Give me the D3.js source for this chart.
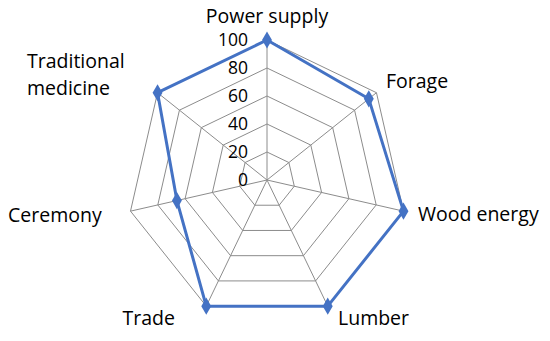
<!DOCTYPE html>
<html>
<head>
<meta charset="utf-8">
<script src="https://cdn.jsdelivr.net/npm/d3@7"></script>
<style>
  body { margin: 0; background: #fff; }
  text { font-family: "Open Sans", sans-serif; fill: #000; }
</style>
</head>
<body>
<div class="stage"></div>
<script>
var categories = ["Power supply", "Forage", "Wood energy", "Lumber", "Trade", "Ceremony", "Traditional medicine"];
var values = [100, 93, 100, 100, 100, 66, 100];
var ticks = [0, 20, 40, 60, 80, 100];

var width = 550, height = 341;
var cx = 267, cy = 180, radius = 140;

var svg = d3.select(".stage").append("svg")
    .attr("width", width)
    .attr("height", height);

var r = d3.scaleLinear().domain([0, 100]).range([0, radius]);
var angle = d3.scaleLinear().domain([0, categories.length]).range([0, 2 * Math.PI]);

function pt(i, v) {
  var a = angle(i);
  return [cx + r(v) * Math.sin(a), cy - r(v) * Math.cos(a)];
}

var g = svg.append("g");

// rings
ticks.slice(1).forEach(function(t) {
  g.append("polygon")
    .attr("points", categories.map(function(c, i) { return pt(i, t).join(","); }).join(" "))
    .attr("fill", "none")
    .attr("stroke", "#8c8c8c")
    .attr("stroke-width", 1);
});

// spokes
g.selectAll(".spoke")
  .data(categories)
  .enter().append("line")
    .attr("class", "spoke")
    .attr("x1", cx).attr("y1", cy)
    .attr("x2", function(d, i) { return pt(i, 100)[0]; })
    .attr("y2", function(d, i) { return pt(i, 100)[1]; })
    .attr("stroke", "#8c8c8c")
    .attr("stroke-width", 1);

// tick labels
g.selectAll(".tick")
  .data(ticks)
  .enter().append("text")
    .attr("class", "tick")
    .attr("x", cx - 19)
    .attr("y", function(d) { return cy - r(d) + 6; })
    .attr("text-anchor", "end")
    .attr("font-size", "17.5px")
    .text(function(d) { return d; });

// series
var line = d3.line()
  .x(function(d, i) { return pt(i, d)[0]; })
  .y(function(d, i) { return pt(i, d)[1]; })
  .curve(d3.curveLinearClosed);

g.append("path")
  .datum(values)
  .attr("fill", "none")
  .attr("stroke", "#4472c4")
  .attr("stroke-width", 3)
  .attr("stroke-linejoin", "round")
  .attr("d", line);

g.selectAll(".marker")
  .data(values)
  .enter().append("path")
    .attr("class", "marker")
    .attr("d", d3.symbol().type(d3.symbolDiamond).size(85))
    .attr("transform", function(d, i) {
      var p = pt(i, d);
      return "translate(" + p[0] + "," + p[1] + ")";
    })
    .attr("fill", "#4472c4");

// category labels
var labelPos = [
  {x: 267, y: 23, anchor: "middle"},
  {x: 386, y: 88, anchor: "start"},
  {x: 418, y: 221, anchor: "start"},
  {x: 338, y: 325, anchor: "start"},
  {x: 175, y: 325, anchor: "end"},
  {x: 8, y: 222, anchor: "start"},
  {x: 27, y: 68, anchor: "start"}
];

categories.forEach(function(c, i) {
  var t = g.append("text")
    .attr("x", labelPos[i].x)
    .attr("y", labelPos[i].y)
    .attr("text-anchor", labelPos[i].anchor)
    .attr("font-size", "19.5px");
  if (c == "Traditional medicine") {
    t.append("tspan").attr("x", labelPos[i].x).text("Traditional");
    t.append("tspan").attr("x", labelPos[i].x).attr("dy", 27).text("medicine");
  } else {
    t.text(c);
  }
});
</script>
</body>
</html>
